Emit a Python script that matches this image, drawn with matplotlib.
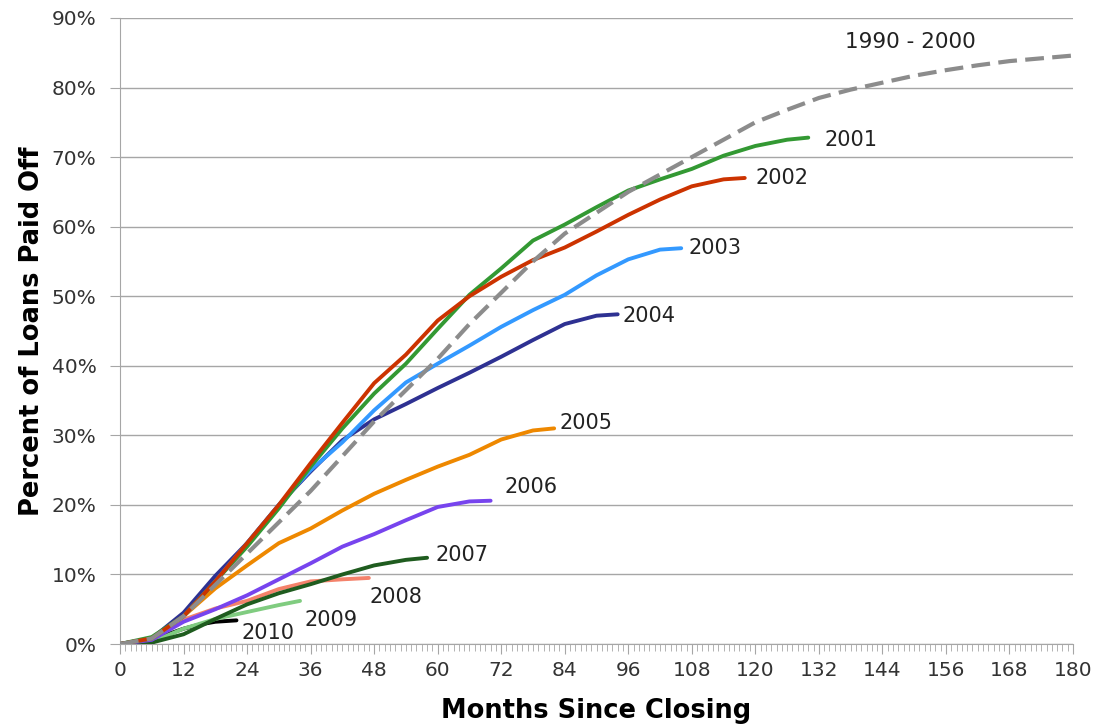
import matplotlib.pyplot as plt
from matplotlib.ticker import MultipleLocator, FuncFormatter

# values (months since closing, percent paid off)
m_base = [0, 6, 12, 18, 24, 30, 36, 42, 48, 54, 60, 66, 72, 78, 84, 90, 96, 102, 108, 114, 120,
          126, 132, 138, 144, 150, 156, 162, 168, 174, 180]
p_base = [0, 0.8, 4, 8.5, 13, 17.5, 22, 27, 32, 36.5, 41, 46, 50.5, 55, 59, 62, 65, 67.5, 70, 72.5, 75,
          76.8, 78.5, 79.7, 80.7, 81.7, 82.5, 83.2, 83.8, 84.2, 84.6]

m_2001 = [0, 6, 12, 18, 24, 30, 36, 42, 48, 54, 60, 66, 72, 78, 84, 90, 96, 102, 108, 114, 120, 126, 130]
p_2001 = [0, 1, 4, 9, 14, 19.5, 25.5, 31, 36, 40.3, 45.3, 50.2, 54, 58, 60.3, 62.8, 65.2, 66.8, 68.3,
          70.2, 71.6, 72.5, 72.8]

m_2002 = [0, 6, 12, 18, 24, 30, 36, 42, 48, 54, 60, 66, 72, 78, 84, 90, 96, 102, 108, 114, 118]
p_2002 = [0, 0.8, 4, 9, 14.5, 20, 26, 31.8, 37.5, 41.6, 46.5, 50, 52.8, 55.2, 57, 59.3, 61.7, 63.9,
          65.8, 66.8, 67.0]

m_2003 = [0, 6, 12, 18, 24, 30, 36, 42, 48, 54, 60, 66, 72, 78, 84, 90, 96, 102, 106]
p_2003 = [0, 0.8, 4, 9, 14.5, 20, 25, 29, 33.6, 37.6, 40.3, 42.9, 45.6, 48, 50.2, 53, 55.3, 56.7, 56.9]

m_2004 = [0, 6, 12, 18, 24, 30, 36, 42, 48, 54, 60, 66, 72, 78, 84, 90, 94]
p_2004 = [0, 0.8, 4.5, 9.8, 14.5, 20, 24.8, 29.3, 32.3, 34.5, 36.8, 39, 41.3, 43.7, 46, 47.2, 47.4]

m_2005 = [0, 6, 12, 18, 24, 30, 36, 42, 48, 54, 60, 66, 72, 78, 82]
p_2005 = [0, 0.8, 4, 8, 11.3, 14.5, 16.6, 19.2, 21.6, 23.6, 25.5, 27.2, 29.4, 30.7, 31]

m_2006 = [0, 6, 12, 18, 24, 30, 36, 42, 48, 54, 60, 66, 70]
p_2006 = [0, 0.6, 3.2, 5, 7, 9.3, 11.6, 14, 15.8, 17.8, 19.7, 20.5, 20.6]

m_2007 = [0, 6, 12, 18, 24, 30, 36, 42, 48, 54, 58]
p_2007 = [0, 0.2, 1.4, 3.6, 5.7, 7.3, 8.6, 10, 11.3, 12.1, 12.4]

m_2008 = [0, 6, 12, 18, 24, 30, 36, 42, 47]
p_2008 = [0, 0.6, 3.5, 5.1, 6.2, 7.9, 9, 9.3, 9.5]

m_2009 = [0, 6, 12, 18, 24, 30, 34]
p_2009 = [0, 0.3, 2.2, 3.6, 4.6, 5.6, 6.2]

m_2010 = [0, 3, 6, 9, 12, 15, 18, 22]
p_2010 = [0, 0.1, 0.5, 1.4, 2.2, 2.8, 3.2, 3.4]

# (name, months, pct, colour, label x, label y)
series = [
    ("2010", m_2010, p_2010, "#000000", 23, 1.6),
    ("2009", m_2009, p_2009, "#80cc80", 34.8, 3.5),
    ("2008", m_2008, p_2008, "#f4826b", 47.2, 6.8),
    ("2007", m_2007, p_2007, "#1f5c1f", 59.5, 12.8),
    ("2006", m_2006, p_2006, "#7744ee", 72.7, 22.6),
    ("2005", m_2005, p_2005, "#ee8800", 83.1, 31.8),
    ("2004", m_2004, p_2004, "#2e3192", 95, 47.2),
    ("2003", m_2003, p_2003, "#3399ff", 107.3, 56.9),
    ("2001", m_2001, p_2001, "#339933", 133, 72.5),
    ("2002", m_2002, p_2002, "#cc3300", 120, 67.0),
]

fig = plt.figure(figsize=(10.94, 7.25), dpi=100)
ax = fig.add_axes([0.1097, 0.1117, 0.8711, 0.8635])

for name, m, p, col, lx, ly in series:
    ax.plot(m, p, color=col, lw=2.8, solid_capstyle='round', zorder=3)
    ax.text(lx, ly, name, fontsize=15, color="#222222", va='center', ha='left')

ax.plot(m_base, p_base, color="#8c8c8c", lw=3, dashes=(4.5, 2), zorder=4)
ax.text(137, 86.5, "1990 - 2000", fontsize=15.5, color="#222222", va='center', ha='left')

ax.set_xlim(0, 180)
ax.set_ylim(0, 90)
ax.xaxis.set_major_locator(MultipleLocator(12))
ax.xaxis.set_minor_locator(MultipleLocator(1))
ax.yaxis.set_major_locator(MultipleLocator(10))
ax.yaxis.set_major_formatter(FuncFormatter(lambda v, pos: "%d%%" % v))

ax.grid(axis='y', color="#a6a6a6", lw=1)
ax.set_axisbelow(True)
for s in ['top', 'right']:
    ax.spines[s].set_visible(False)
for s in ['left', 'bottom']:
    ax.spines[s].set_color("#a6a6a6")

ax.tick_params(axis='both', which='major', colors="#a6a6a6", labelcolor="#333333",
               labelsize=14.5, length=7, direction='out')
ax.tick_params(axis='x', which='minor', colors="#a6a6a6", length=5, direction='out')
ax.tick_params(axis='x', which='major', pad=5)
ax.tick_params(axis='y', which='major', pad=10)

ax.set_xlabel("Months Since Closing", fontsize=18.5, fontweight='bold', labelpad=13)
ax.set_ylabel("Percent of Loans Paid Off", fontsize=18.5, fontweight='bold', labelpad=5)

fig.savefig("out.png", dpi=100)
